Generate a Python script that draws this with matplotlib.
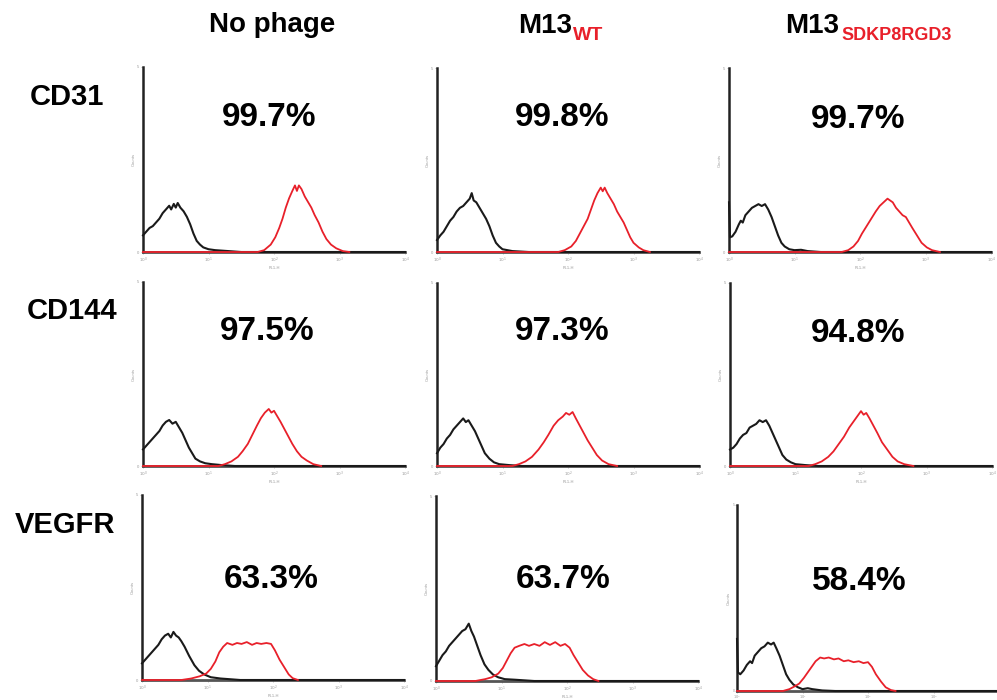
import numpy as np
import matplotlib
matplotlib.use("Agg")
import matplotlib.pyplot as plt

plt.rcParams['font.family'] = ['Liberation Sans', 'DejaVu Sans']

# ---------------- data ----------------
col_titles = ["No phage", "M13", "M13"]
col_subs = ["", "WT", "SDKP8RGD3"]
row_labels = ["CD31", "CD144", "VEGFR"]
percents = [["99.7%", "99.8%", "99.7%"],
            ["97.5%", "97.3%", "94.8%"],
            ["63.3%", "63.7%", "58.4%"]]
decade_labels = ["$10^0$", "$10^1$", "$10^2$", "$10^3$", "$10^4$"]

# Histograms: log10(fluorescence) positions and counts (% of axis height)
# Row 1: CD31
cd31_none_black_x = [0, 0.05, 0.1, 0.15, 0.2, 0.25, 0.3, 0.35, 0.4, 0.43, 0.47, 0.5, 0.53, 0.57, 0.62, 0.67, 0.72, 0.77, 0.82, 0.87, 0.92, 1.0, 1.1, 1.3, 1.5]
cd31_none_black_y = [9, 11, 13, 14, 16, 18, 21, 23, 25, 23, 26, 24, 26.5, 24, 22, 19, 15, 10, 6, 4, 2.5, 1.5, 1, 0.5, 0]
cd31_none_red_x = [1.75, 1.85, 1.95, 2.02, 2.08, 2.13, 2.18, 2.23, 2.28, 2.32, 2.35, 2.38, 2.42, 2.47, 2.52, 2.57, 2.62, 2.68, 2.74, 2.8, 2.87, 2.95, 3.05, 3.15]
cd31_none_red_y = [0, 1, 4, 8, 13, 18, 24, 29, 33, 36, 33, 36, 34, 30, 27, 24, 20, 16, 11, 7, 4, 2, 0.5, 0]

cd31_wt_black_x = [0, 0.05, 0.1, 0.15, 0.2, 0.25, 0.3, 0.35, 0.4, 0.45, 0.5, 0.53, 0.56, 0.6, 0.65, 0.7, 0.75, 0.8, 0.85, 0.9, 0.95, 1.0, 1.15, 1.4]
cd31_wt_black_y = [6.5, 9, 11, 14, 17, 19, 22, 24, 25, 27, 29, 32, 28, 27, 24, 21, 18, 14, 9, 5, 3, 1.5, 0.5, 0]
cd31_wt_red_x = [1.85, 1.95, 2.05, 2.12, 2.18, 2.24, 2.3, 2.35, 2.4, 2.45, 2.5, 2.53, 2.56, 2.6, 2.65, 2.7, 2.75, 2.8, 2.85, 2.9, 2.95, 3.0, 3.08, 3.15, 3.25]
cd31_wt_red_y = [0, 1, 3, 6, 10, 14, 18, 23, 28, 32, 35, 33, 35, 32, 29, 26, 22, 19, 16, 12, 8, 5, 2.5, 1, 0]

cd31_sdkp_black_x = [0, 0.015, 0.05, 0.1, 0.15, 0.18, 0.21, 0.25, 0.3, 0.35, 0.4, 0.45, 0.5, 0.55, 0.6, 0.65, 0.7, 0.75, 0.8, 0.85, 0.92, 1.0, 1.1, 1.2, 1.4]
cd31_sdkp_black_y = [27, 8, 8.5, 11, 15, 17, 16, 20, 22, 24, 25, 26, 25, 26, 23, 19, 14, 9, 5, 3, 1.5, 1, 1.2, 0.5, 0]
cd31_sdkp_red_x = [1.72, 1.82, 1.9, 1.97, 2.03, 2.1, 2.17, 2.24, 2.3, 2.36, 2.42, 2.46, 2.5, 2.55, 2.6, 2.65, 2.7, 2.75, 2.8, 2.87, 2.94, 3.02, 3.1, 3.22]
cd31_sdkp_red_y = [0, 1, 3, 6, 10, 14, 18, 22, 25, 27, 29, 28, 27, 24, 22, 20, 19, 16, 13, 9, 5, 2.5, 1, 0]

# Row 2: CD144
cd144_none_black_x = [0, 0.05, 0.1, 0.15, 0.2, 0.25, 0.3, 0.35, 0.4, 0.45, 0.5, 0.55, 0.6, 0.65, 0.7, 0.75, 0.8, 0.87, 0.95, 1.05, 1.2, 1.4]
cd144_none_black_y = [9, 11, 13, 15, 17, 19, 22, 24, 25, 23, 24, 21, 18, 14, 10, 7, 4, 2.5, 1.5, 1, 0.5, 0]
cd144_none_red_x = [1.15, 1.25, 1.35, 1.45, 1.52, 1.6, 1.67, 1.74, 1.8, 1.86, 1.92, 1.96, 2.0, 2.05, 2.1, 2.16, 2.22, 2.28, 2.35, 2.42, 2.5, 2.6, 2.72]
cd144_none_red_y = [0, 1, 2.5, 5, 8, 12, 17, 22, 26, 29, 31, 29, 30, 27, 24, 20, 16, 12, 8, 5, 3, 1, 0]

cd144_wt_black_x = [0, 0.05, 0.1, 0.15, 0.2, 0.25, 0.3, 0.35, 0.4, 0.44, 0.48, 0.53, 0.58, 0.63, 0.68, 0.73, 0.8, 0.87, 0.95, 1.1, 1.3]
cd144_wt_black_y = [7, 10, 12, 15, 17, 20, 22, 24, 26, 24, 25, 22, 19, 15, 11, 7, 4, 2, 1, 0.5, 0]
cd144_wt_red_x = [1.15, 1.25, 1.35, 1.45, 1.55, 1.63, 1.7, 1.78, 1.85, 1.92, 1.97, 2.02, 2.07, 2.12, 2.18, 2.24, 2.3, 2.37, 2.44, 2.52, 2.62, 2.75]
cd144_wt_red_y = [0, 1, 2.5, 5, 9, 13, 17, 22, 25, 27, 29, 28, 29.5, 26, 22, 18, 14, 10, 6, 3, 1, 0]

cd144_sdkp_black_x = [0, 0.05, 0.1, 0.15, 0.2, 0.25, 0.3, 0.35, 0.4, 0.45, 0.5, 0.55, 0.6, 0.65, 0.7, 0.75, 0.8, 0.86, 0.93, 1.0, 1.15, 1.35]
cd144_sdkp_black_y = [9, 10, 12, 15, 17, 18, 21, 22, 23, 25, 24, 25, 22, 18, 14, 10, 6, 3.5, 2, 1, 0.5, 0]
cd144_sdkp_red_x = [1.2, 1.3, 1.4, 1.5, 1.58, 1.66, 1.74, 1.82, 1.9, 1.96, 2.0, 2.04, 2.08, 2.13, 2.19, 2.25, 2.32, 2.4, 2.48, 2.56, 2.66, 2.8]
cd144_sdkp_red_y = [0, 1, 2.5, 5, 8, 12, 16, 21, 25, 28, 30, 28, 29, 26, 22, 18, 13, 9, 5, 2.5, 1, 0]

# Row 3: VEGFR
vegfr_none_black_x = [0, 0.05, 0.1, 0.15, 0.2, 0.25, 0.3, 0.35, 0.4, 0.44, 0.48, 0.52, 0.56, 0.6, 0.65, 0.72, 0.8, 0.87, 0.95, 1.05, 1.2, 1.5]
vegfr_none_black_y = [9, 11, 13, 15, 17, 19, 22, 24, 25, 23, 26, 24, 23, 21, 18, 13, 8, 5, 3, 1.5, 0.8, 0]
vegfr_none_red_x = [0.6, 0.75, 0.88, 0.98, 1.05, 1.12, 1.18, 1.24, 1.3, 1.38, 1.45, 1.52, 1.6, 1.68, 1.75, 1.82, 1.9, 1.97, 2.03, 2.1, 2.17, 2.24, 2.3, 2.38]
vegfr_none_red_y = [0, 0.8, 2, 3.5, 6, 10, 15, 18, 20, 19, 20, 19.5, 20.5, 19, 20, 19.5, 20, 19.5, 16, 11, 7, 3, 1, 0]

vegfr_wt_black_x = [0, 0.05, 0.1, 0.15, 0.2, 0.25, 0.3, 0.35, 0.4, 0.45, 0.5, 0.54, 0.58, 0.63, 0.68, 0.74, 0.8, 0.87, 0.95, 1.05, 1.2, 1.5]
vegfr_wt_black_y = [8, 11, 14, 16, 19, 21, 23, 25, 27, 28, 31, 27, 24, 19, 14, 9, 6, 3.5, 2, 1, 0.7, 0]
vegfr_wt_red_x = [0.6, 0.75, 0.85, 0.95, 1.02, 1.08, 1.14, 1.2, 1.27, 1.35, 1.42, 1.5, 1.58, 1.66, 1.74, 1.82, 1.9, 1.97, 2.04, 2.1, 2.17, 2.24, 2.32, 2.4, 2.48]
vegfr_wt_red_y = [0, 1, 2, 4, 7, 11, 15, 18, 19, 20, 19, 20, 19, 21, 19.5, 21, 19, 20, 18, 14, 10, 6, 3, 1, 0]

vegfr_sdkp_black_x = [0, 0.015, 0.05, 0.1, 0.15, 0.2, 0.23, 0.27, 0.32, 0.37, 0.42, 0.47, 0.52, 0.56, 0.6, 0.65, 0.7, 0.75, 0.8, 0.86, 0.93, 1.0, 1.08, 1.15, 1.3, 1.5]
vegfr_sdkp_black_y = [28, 10, 9, 11, 14, 16, 15, 19, 21, 23, 24, 26, 25, 26, 23, 19, 14, 9, 6, 3.5, 2, 1, 1.5, 1, 0.3, 0]
vegfr_sdkp_red_x = [0.7, 0.8, 0.88, 0.95, 1.02, 1.08, 1.14, 1.2, 1.27, 1.33, 1.4, 1.48, 1.55, 1.63, 1.7, 1.78, 1.86, 1.93, 2.0, 2.06, 2.12, 2.2, 2.27, 2.35, 2.42]
vegfr_sdkp_red_y = [0, 1, 2.5, 4, 7, 10, 13, 16, 18, 17.5, 18, 17, 17.5, 16, 16.5, 15.5, 16, 15, 15.5, 13, 9, 5, 2, 0.5, 0]

black_curves = [[(cd31_none_black_x, cd31_none_black_y), (cd31_wt_black_x, cd31_wt_black_y), (cd31_sdkp_black_x, cd31_sdkp_black_y)],
                [(cd144_none_black_x, cd144_none_black_y), (cd144_wt_black_x, cd144_wt_black_y), (cd144_sdkp_black_x, cd144_sdkp_black_y)],
                [(vegfr_none_black_x, vegfr_none_black_y), (vegfr_wt_black_x, vegfr_wt_black_y), (vegfr_sdkp_black_x, vegfr_sdkp_black_y)]]
red_curves = [[(cd31_none_red_x, cd31_none_red_y), (cd31_wt_red_x, cd31_wt_red_y), (cd31_sdkp_red_x, cd31_sdkp_red_y)],
              [(cd144_none_red_x, cd144_none_red_y), (cd144_wt_red_x, cd144_wt_red_y), (cd144_sdkp_red_x, cd144_sdkp_red_y)],
              [(vegfr_none_red_x, vegfr_none_red_y), (vegfr_wt_red_x, vegfr_wt_red_y), (vegfr_sdkp_red_x, vegfr_sdkp_red_y)]]

# ---------------- layout (pixels) ----------------
W, H = 997, 700
fig = plt.figure(figsize=(W / 100, H / 100), dpi=100)

def fx(x):
    return x / W

def fy(y):
    return 1 - y / H

# (left x, top y, baseline y) for every panel
panel_geom = [[(143, 67, 252), (437, 68, 252), (729, 68, 252)],
              [(143, 282, 466), (437, 283, 466), (730, 283, 466)],
              [(142, 495, 680), (436, 496, 681), (737, 505, 691)]]
panel_w = 262

RED = "#e8202a"
for r in range(3):
    for c in range(3):
        x0, yt, yb = panel_geom[r][c]
        ax = fig.add_axes([fx(x0), fy(yb), panel_w / W, (yb - yt) / H])
        ax.set_xscale("log")
        ax.set_xlim(1, 1e4)
        ax.set_ylim(0, 100)
        bx, by = black_curves[r][c]
        rx, ry = red_curves[r][c]
        bxs = list(bx) + [4.0]
        bys = list(by) + [0]
        rxs = [0.0] + list(rx)
        rys = [0] + list(ry)
        ax.plot(10 ** np.array(bxs), bys, color="#1a1a1a", lw=1.5, zorder=3, clip_on=False,
                solid_joinstyle="round")
        ax.plot(10 ** np.array(rxs), rys, color=RED, lw=1.3, zorder=4, clip_on=False,
                solid_joinstyle="round")
        for s in ["top", "right"]:
            ax.spines[s].set_visible(False)
        ax.spines["left"].set_color("#222222")
        ax.spines["left"].set_linewidth(1.8)
        ax.spines["bottom"].set_color("#555555")
        ax.spines["bottom"].set_linewidth(2.0)
        last_row_edge = (r == 2 and c == 2)
        if last_row_edge:
            ax.set_xticks([1, 10, 100, 1000])
            ax.set_xticklabels(decade_labels[:4])
        else:
            ax.set_xticks([1, 10, 100, 1000, 10000])
            ax.set_xticklabels(decade_labels)
        ax.xaxis.set_minor_locator(matplotlib.ticker.NullLocator())
        ax.set_yticks([0, 100])
        ax.set_yticklabels(["0", "5"])
        ax.tick_params(axis="both", length=1.5, width=0.5, color="#aaaaaa",
                       labelsize=2.5 if last_row_edge else 3, labelcolor="#999999",
                       pad=0.3 if last_row_edge else 1)
        if not last_row_edge:
            ax.set_xlabel("FL1-H", fontsize=3, color="#999999", labelpad=1)
        ax.set_ylabel("Counts", fontsize=3, color="#999999", labelpad=1)
        ax.patch.set_alpha(0)

# percent annotations (pixel centers)
pct_pos = [[(269, 117), (562, 117), (858, 120)],
           [(267, 331), (562, 331), (858, 333)],
           [(271, 579), (563, 580), (859, 581)]]
for r in range(3):
    for c in range(3):
        px, py = pct_pos[r][c]
        fig.text(fx(px), fy(py), percents[r][c], fontsize=24, fontweight="bold",
                 ha="center", va="center", color="black")

# column titles
fig.text(fx(272), fy(32), col_titles[0], fontsize=20, fontweight="bold",
         ha="center", va="baseline")
fig.text(fx(518), fy(33), col_titles[1], fontsize=20, fontweight="bold",
         ha="left", va="baseline")
fig.text(fx(573), fy(40), col_subs[1], fontsize=14, fontweight="bold",
         ha="left", va="baseline", color=RED)
fig.text(fx(785), fy(33), col_titles[2], fontsize=20, fontweight="bold",
         ha="left", va="baseline")
fig.text(fx(841), fy(40), col_subs[2], fontsize=13, fontweight="bold",
         ha="left", va="baseline", color=RED)

# row labels
row_pos = [(30, 97), (27, 311), (15, 525)]
for (px, py), lab in zip(row_pos, row_labels):
    fig.text(fx(px), fy(py), lab, fontsize=21, fontweight="bold",
             ha="left", va="center")

fig.savefig("out.png", dpi=100)
